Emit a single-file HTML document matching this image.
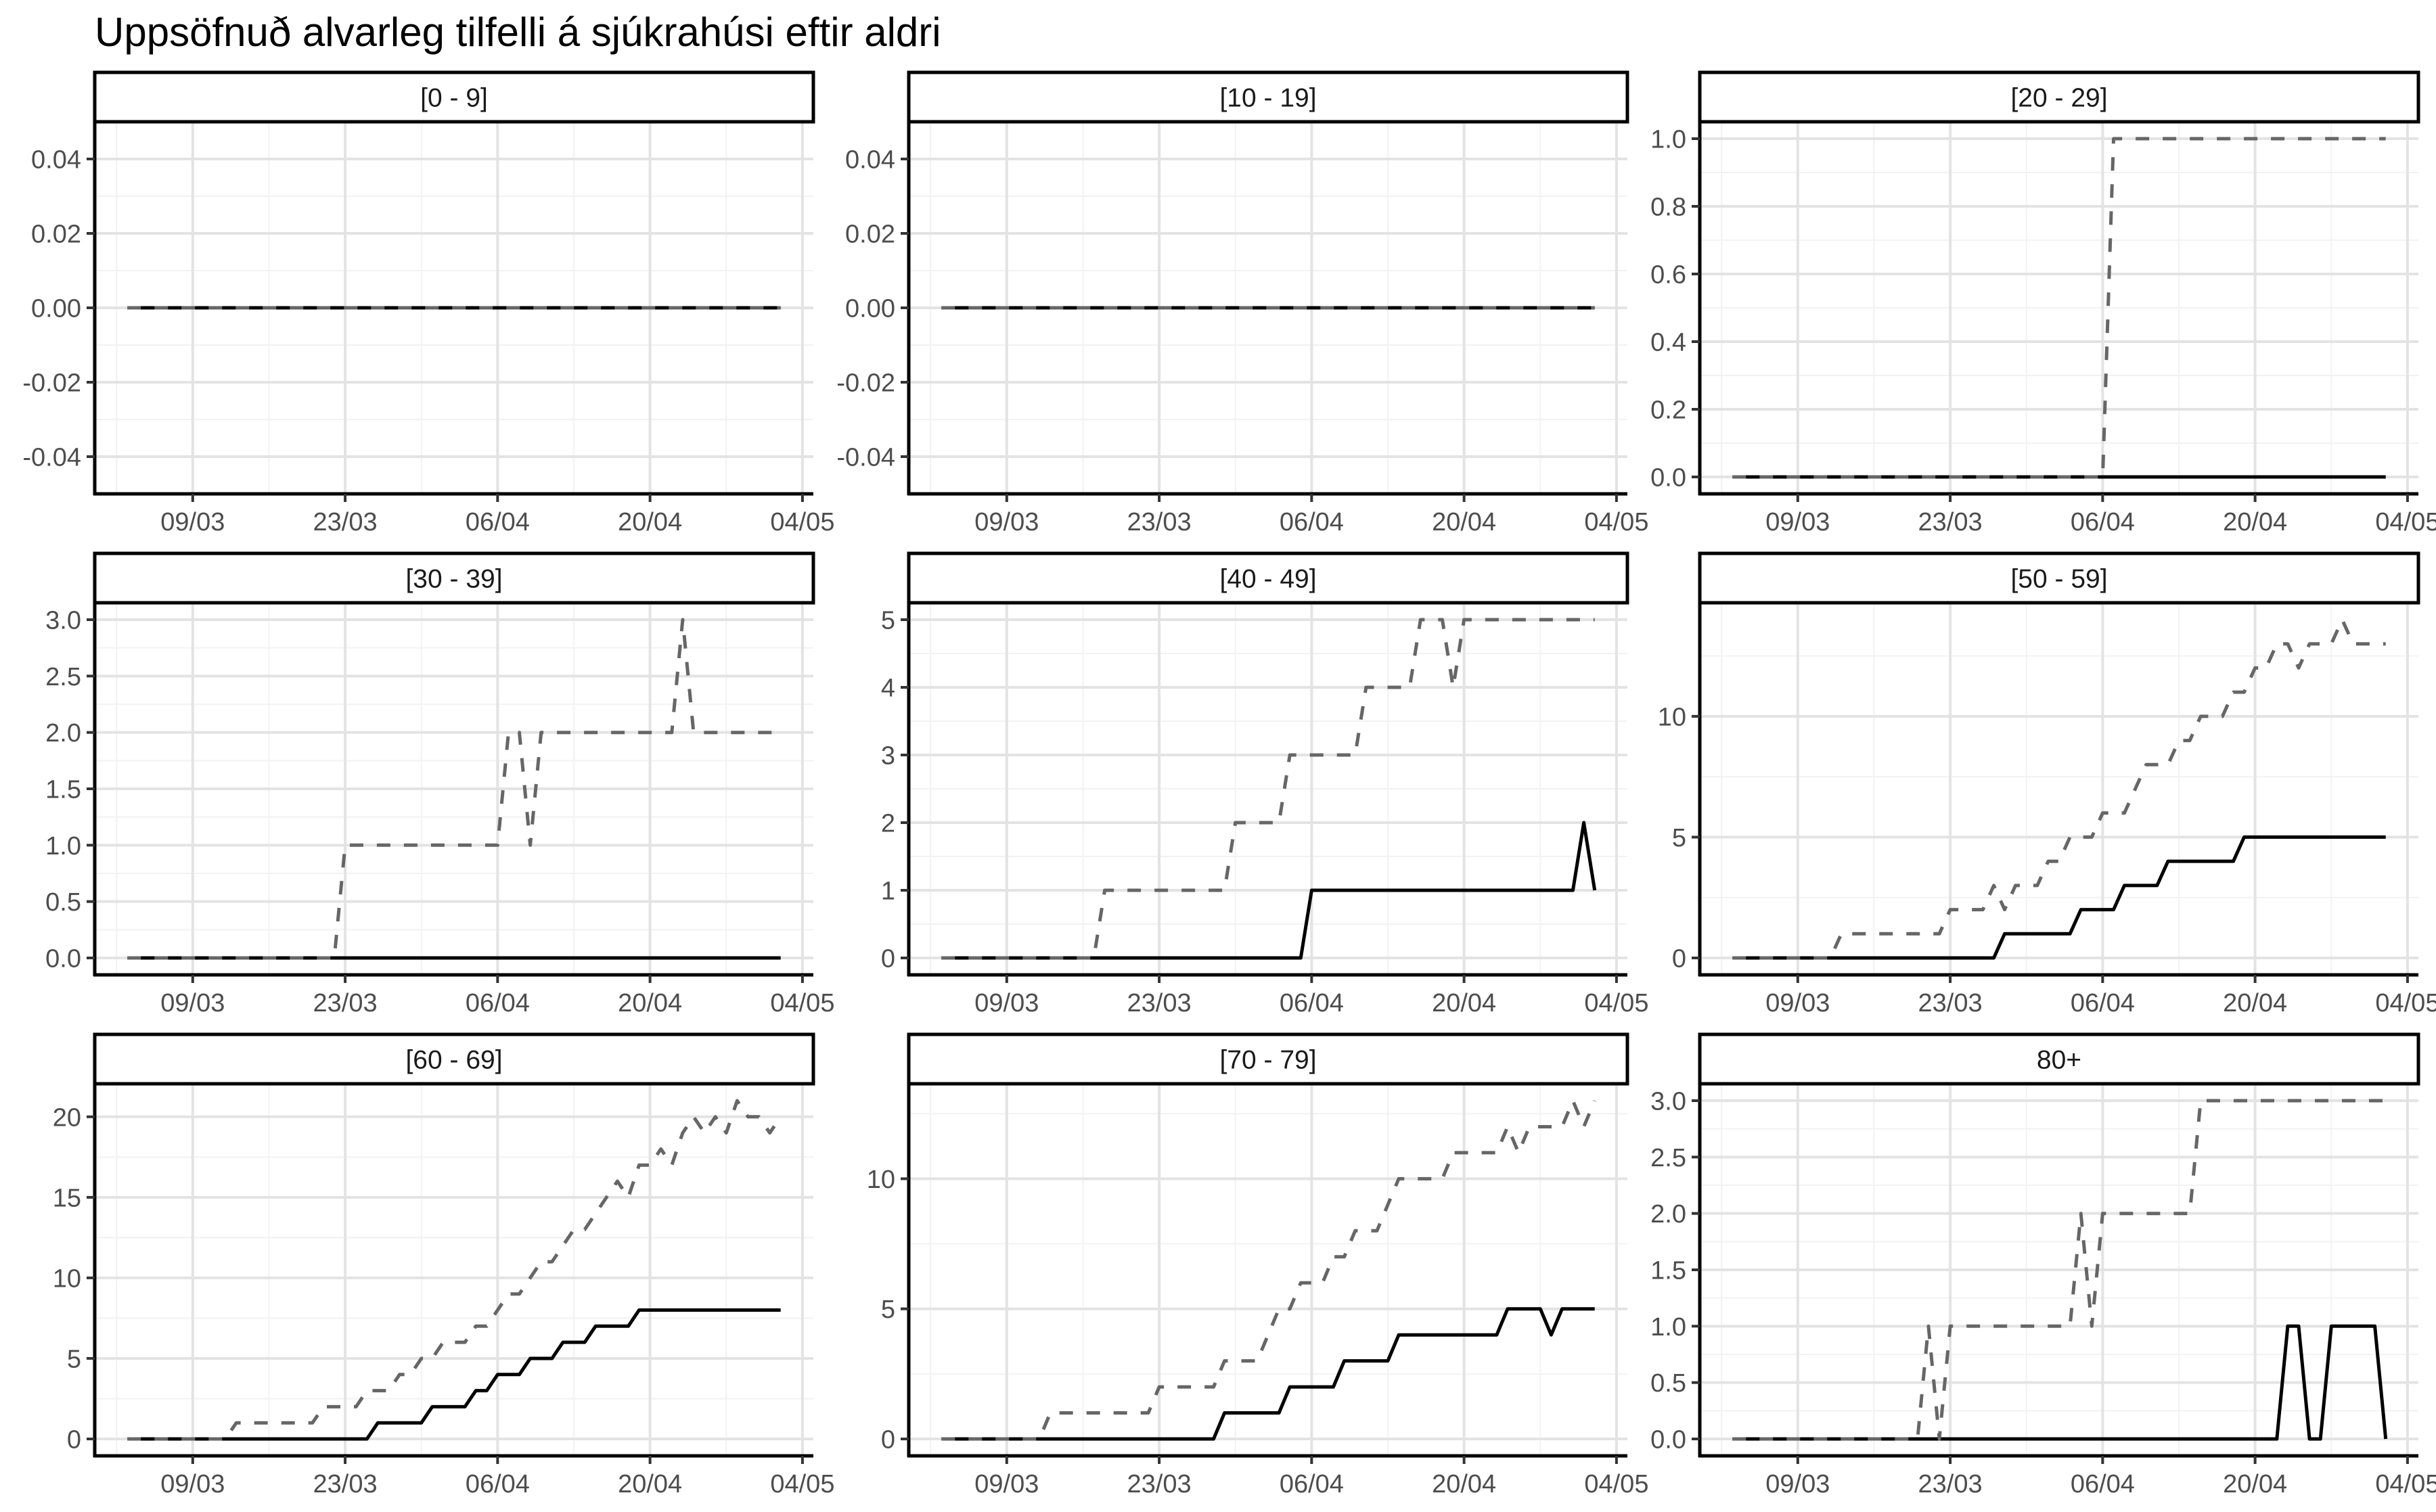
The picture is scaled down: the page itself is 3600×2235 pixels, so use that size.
<!DOCTYPE html>
<html><head><meta charset="utf-8"><style>
html,body{margin:0;padding:0;background:#fff;}
svg{display:block;}
text{font-family:"Liberation Sans",Arial,sans-serif;}
</style></head><body>
<svg id="chart" width="3600" height="2235" viewBox="0 0 3600 2235" xmlns="http://www.w3.org/2000/svg">
<rect x="0" y="0" width="3600" height="2235" fill="#fff"/>
<text x="140" y="68" font-size="60" fill="#000">Uppsöfnuð alvarleg tilfelli á sjúkrahúsi eftir aldri</text>
</svg>
<script>
const panelLabels = ['[0 - 9]','[10 - 19]','[20 - 29]','[30 - 39]','[40 - 49]','[50 - 59]','[60 - 69]','[70 - 79]','80+'];
const xTickDays = [0,14,28,42,56];
const xTickLabels = ['09/03','23/03','06/04','20/04','04/05'];
const xMinorDays = [-7,7,21,35,49];

const solid0 = [0,0,0,0,0,0,0,0,0,0, 0,0,0,0,0,0,0,0,0,0, 0,0,0,0,0,0,0,0,0,0, 0,0,0,0,0,0,0,0,0,0, 0,0,0,0,0,0,0,0,0,0, 0,0,0,0,0,0,0,0,0,0, 0];
const dashed0 = [0,0,0,0,0,0,0,0,0,0, 0,0,0,0,0,0,0,0,0,0, 0,0,0,0,0,0,0,0,0,0, 0,0,0,0,0,0,0,0,0,0, 0,0,0,0,0,0,0,0,0,0, 0,0,0,0,0,0,0,0,0,0, 0];
const solid10 = [0,0,0,0,0,0,0,0,0,0, 0,0,0,0,0,0,0,0,0,0, 0,0,0,0,0,0,0,0,0,0, 0,0,0,0,0,0,0,0,0,0, 0,0,0,0,0,0,0,0,0,0, 0,0,0,0,0,0,0,0,0,0, 0];
const dashed10 = [0,0,0,0,0,0,0,0,0,0, 0,0,0,0,0,0,0,0,0,0, 0,0,0,0,0,0,0,0,0,0, 0,0,0,0,0,0,0,0,0,0, 0,0,0,0,0,0,0,0,0,0, 0,0,0,0,0,0,0,0,0,0, 0];
const solid20 = [0,0,0,0,0,0,0,0,0,0, 0,0,0,0,0,0,0,0,0,0, 0,0,0,0,0,0,0,0,0,0, 0,0,0,0,0,0,0,0,0,0, 0,0,0,0,0,0,0,0,0,0, 0,0,0,0,0,0,0,0,0,0, 0];
const dashed20 = [0,0,0,0,0,0,0,0,0,0, 0,0,0,0,0,0,0,0,0,0, 0,0,0,0,0,0,0,0,0,0, 0,0,0,0,0,1,1,1,1,1, 1,1,1,1,1,1,1,1,1,1, 1,1,1,1,1,1,1,1,1,1, 1];
const solid30 = [0,0,0,0,0,0,0,0,0,0, 0,0,0,0,0,0,0,0,0,0, 0,0,0,0,0,0,0,0,0,0, 0,0,0,0,0,0,0,0,0,0, 0,0,0,0,0,0,0,0,0,0, 0,0,0,0,0,0,0,0,0,0, 0];
const dashed30 = [0,0,0,0,0,0,0,0,0,0, 0,0,0,0,0,0,0,0,0,0, 1,1,1,1,1,1,1,1,1,1, 1,1,1,1,1,2,2,1,2,2, 2,2,2,2,2,2,2,2,2,2, 2,3,2,2,2,2,2,2,2,2, 2];
const solid40 = [0,0,0,0,0,0,0,0,0,0, 0,0,0,0,0,0,0,0,0,0, 0,0,0,0,0,0,0,0,0,0, 0,0,0,0,1,1,1,1,1,1, 1,1,1,1,1,1,1,1,1,1, 1,1,1,1,1,1,1,1,1,2, 1];
const dashed40 = [0,0,0,0,0,0,0,0,0,0, 0,0,0,0,0,1,1,1,1,1, 1,1,1,1,1,1,1,2,2,2, 2,2,3,3,3,3,3,3,3,4, 4,4,4,4,5,5,5,4,5,5, 5,5,5,5,5,5,5,5,5,5, 5];
const solid50 = [0,0,0,0,0,0,0,0,0,0, 0,0,0,0,0,0,0,0,0,0, 0,0,0,0,0,1,1,1,1,1, 1,1,2,2,2,2,3,3,3,3, 4,4,4,4,4,4,4,5,5,5, 5,5,5,5,5,5,5,5,5,5, 5];
const dashed50 = [0,0,0,0,0,0,0,0,0,0, 1,1,1,1,1,1,1,1,1,1, 2,2,2,2,3,2,3,3,3,4, 4,5,5,5,6,6,6,7,8,8, 8,9,9,10,10,10,11,11,12,12, 13,13,12,13,13,13,14,13,13,13, 13];
const solid60 = [0,0,0,0,0,0,0,0,0,0, 0,0,0,0,0,0,0,0,0,0, 0,0,0,1,1,1,1,1,2,2, 2,2,3,3,4,4,4,5,5,5, 6,6,6,7,7,7,7,8,8,8, 8,8,8,8,8,8,8,8,8,8, 8];
const dashed60 = [0,0,0,0,0,0,0,0,0,0, 1,1,1,1,1,1,1,1,2,2, 2,2,3,3,3,4,4,5,5,6, 6,6,7,7,8,9,9,10,11,11, 12,13,13,14,15,16,15,17,17,18, 17,19,20,19,20,19,21,20,20,19, 20];
const solid70 = [0,0,0,0,0,0,0,0,0,0, 0,0,0,0,0,0,0,0,0,0, 0,0,0,0,0,0,1,1,1,1, 1,1,2,2,2,2,2,3,3,3, 3,3,4,4,4,4,4,4,4,4, 4,4,5,5,5,5,4,5,5,5, 5];
const dashed70 = [0,0,0,0,0,0,0,0,0,0, 1,1,1,1,1,1,1,1,1,1, 2,2,2,2,2,2,3,3,3,3, 4,5,5,6,6,6,7,7,8,8, 8,9,10,10,10,10,10,11,11,11, 11,11,12,11,12,12,12,12,13,12, 13];
const solid80 = [0,0,0,0,0,0,0,0,0,0, 0,0,0,0,0,0,0,0,0,0, 0,0,0,0,0,0,0,0,0,0, 0,0,0,0,0,0,0,0,0,0, 0,0,0,0,0,0,0,0,0,0, 0,1,1,0,0,1,1,1,1,1, 0];
const dashed80 = [0,0,0,0,0,0,0,0,0,0, 0,0,0,0,0,0,0,0,1,0, 1,1,1,1,1,1,1,1,1,1, 1,1,2,1,2,2,2,2,2,2, 2,2,2,3,3,3,3,3,3,3, 3,3,3,3,3,3,3,3,3,3, 3];

const yTicks0 = [-0.04,-0.02,0,0.02,0.04];
const yTickLabels0 = ['-0.04','-0.02','0.00','0.02','0.04'];
const yTicks20 = [0,0.2,0.4,0.6,0.8,1.0];
const yTickLabels20 = ['0.0','0.2','0.4','0.6','0.8','1.0'];
const yTicks30 = [0,0.5,1,1.5,2,2.5,3];
const yTickLabels30 = ['0.0','0.5','1.0','1.5','2.0','2.5','3.0'];
const yTicks40 = [0,1,2,3,4,5];
const yTickLabels40 = ['0','1','2','3','4','5'];
const yTicks50 = [0,5,10];
const yTickLabels50 = ['0','5','10'];
const yTicks60 = [0,5,10,15,20];
const yTickLabels60 = ['0','5','10','15','20'];
const yTicks70 = [0,5,10];
const yTickLabels70 = ['0','5','10'];
const yTicks80 = [0,0.5,1,1.5,2,2.5,3];
const yTickLabels80 = ['0.0','0.5','1.0','1.5','2.0','2.5','3.0'];

const solidSeries = [solid0,solid10,solid20,solid30,solid40,solid50,solid60,solid70,solid80];
const dashedSeries = [dashed0,dashed10,dashed20,dashed30,dashed40,dashed50,dashed60,dashed70,dashed80];
const yTickSets = [yTicks0,yTicks0,yTicks20,yTicks30,yTicks40,yTicks50,yTicks60,yTicks70,yTicks80];
const yTickLabelSets = [yTickLabels0,yTickLabels0,yTickLabels20,yTickLabels30,yTickLabels40,yTickLabels50,yTickLabels60,yTickLabels70,yTickLabels80];

const NS = 'http://www.w3.org/2000/svg';
const svg = document.getElementById('chart');
const colX = [140,1343,2512];
const rowY = [107,818,1529];
const PW = 1062, SH = 73, PH = 550;
const firstDay = -6;

function mk(tag, attrs, parent){
  const e = document.createElementNS(NS, tag);
  for (const k in attrs) e.setAttribute(k, attrs[k]);
  parent.appendChild(e);
  return e;
}

for (let p = 0; p < 9; p++) {
  const x0 = colX[p % 3], top = rowY[Math.floor(p / 3)];
  const pt = top + SH, pb = pt + PH;
  const solid = solidSeries[p], dashed = dashedSeries[p];
  const days = solid.map((_, i) => firstDay + i);
  const xMin = days[0], xMax = days[days.length - 1];
  const xPad = (xMax - xMin) * 0.05;
  const xLo = xMin - xPad, xHi = xMax + xPad;
  const xs = d => x0 + (d - xLo) / (xHi - xLo) * PW;
  const all = solid.concat(dashed);
  let lo = Math.min(...all), hi = Math.max(...all);
  if (hi === lo) { lo -= 0.05; hi += 0.05; } else { const pd = (hi - lo) * 0.05; lo -= pd; hi += pd; }
  const ys = v => pb - (v - lo) / (hi - lo) * PH;

  const g = mk('g', {}, svg);
  
  

  const ticks = yTickSets[p];
  const minors = [];
  for (let i = 0; i < ticks.length - 1; i++) minors.push((ticks[i] + ticks[i + 1]) / 2);
  const step = ticks[1] - ticks[0];
  if (ticks[ticks.length - 1] + step / 2 <= hi) minors.push(ticks[ticks.length - 1] + step / 2);
  if (ticks[0] - step / 2 >= lo) minors.push(ticks[0] - step / 2);
  minors.forEach(v => {
    const l = mk('line', {x1: x0, x2: x0 + PW, y1: ys(v), y2: ys(v), stroke: '#f2f2f2', 'stroke-width': 2}, g);
    
    
  });
  xMinorDays.forEach(d => {
    const l = mk('line', {x1: xs(d), x2: xs(d), y1: pt, y2: pb, stroke: '#f2f2f2', 'stroke-width': 2}, g);
    
    
  });
  ticks.forEach(v => {
    const l = mk('line', {x1: x0, x2: x0 + PW, y1: ys(v), y2: ys(v), stroke: '#e3e3e3', 'stroke-width': 4}, g);
    
    
  });
  xTickDays.forEach(d => {
    const l = mk('line', {x1: xs(d), x2: xs(d), y1: pt, y2: pb, stroke: '#e3e3e3', 'stroke-width': 4}, g);
    
    
  });

  const sPts = solid.map((v, i) => xs(days[i]).toFixed(1) + ',' + ys(v).toFixed(1)).join(' ');
  const sl = mk('polyline', {points: sPts, fill: 'none', stroke: '#000', 'stroke-width': 5, 'stroke-linejoin': 'round'}, g);
  
  
  const dPts = dashed.map((v, i) => xs(days[i]).toFixed(1) + ',' + ys(v).toFixed(1)).join(' ');
  const dl = mk('polyline', {points: dPts, fill: 'none', stroke: '#666666', 'stroke-width': 5, 'stroke-dasharray': '20 20', 'stroke-linejoin': 'round'}, g);
  
  

  const ya = mk('line', {x1: x0, x2: x0, y1: pt, y2: pb + 2, stroke: '#000', 'stroke-width': 5}, g);
  
  
  const xa = mk('line', {x1: x0 - 2, x2: x0 + PW, y1: pb, y2: pb, stroke: '#000', 'stroke-width': 5}, g);
  
  

  ticks.forEach((v, i) => {
    const t = mk('line', {x1: x0 - 12, x2: x0, y1: ys(v), y2: ys(v), stroke: '#333', 'stroke-width': 4}, g);
    
    
    const tx = mk('text', {x: x0 - 20, y: ys(v) + 13.5, 'font-size': 38, fill: '#4d4d4d', 'text-anchor': 'end'}, g);
    tx.textContent = yTickLabelSets[p][i];
    
    
  });
  xTickDays.forEach((d, i) => {
    const t = mk('line', {x1: xs(d), x2: xs(d), y1: pb, y2: pb + 12, stroke: '#333', 'stroke-width': 4}, g);
    
    
    const tx = mk('text', {x: xs(d), y: pb + 54, 'font-size': 38, fill: '#4d4d4d', 'text-anchor': 'middle'}, g);
    tx.textContent = xTickLabels[i];
    
    
  });

  const sr = mk('rect', {x: x0, y: top, width: PW, height: SH, fill: '#fff', stroke: '#000', 'stroke-width': 5}, g);
  
  
  const st = mk('text', {x: x0 + PW / 2, y: top + SH / 2 + 14, 'font-size': 39, fill: '#1a1a1a', 'text-anchor': 'middle'}, g);
  st.textContent = panelLabels[p];
  
  
}
</script>
</body></html>
